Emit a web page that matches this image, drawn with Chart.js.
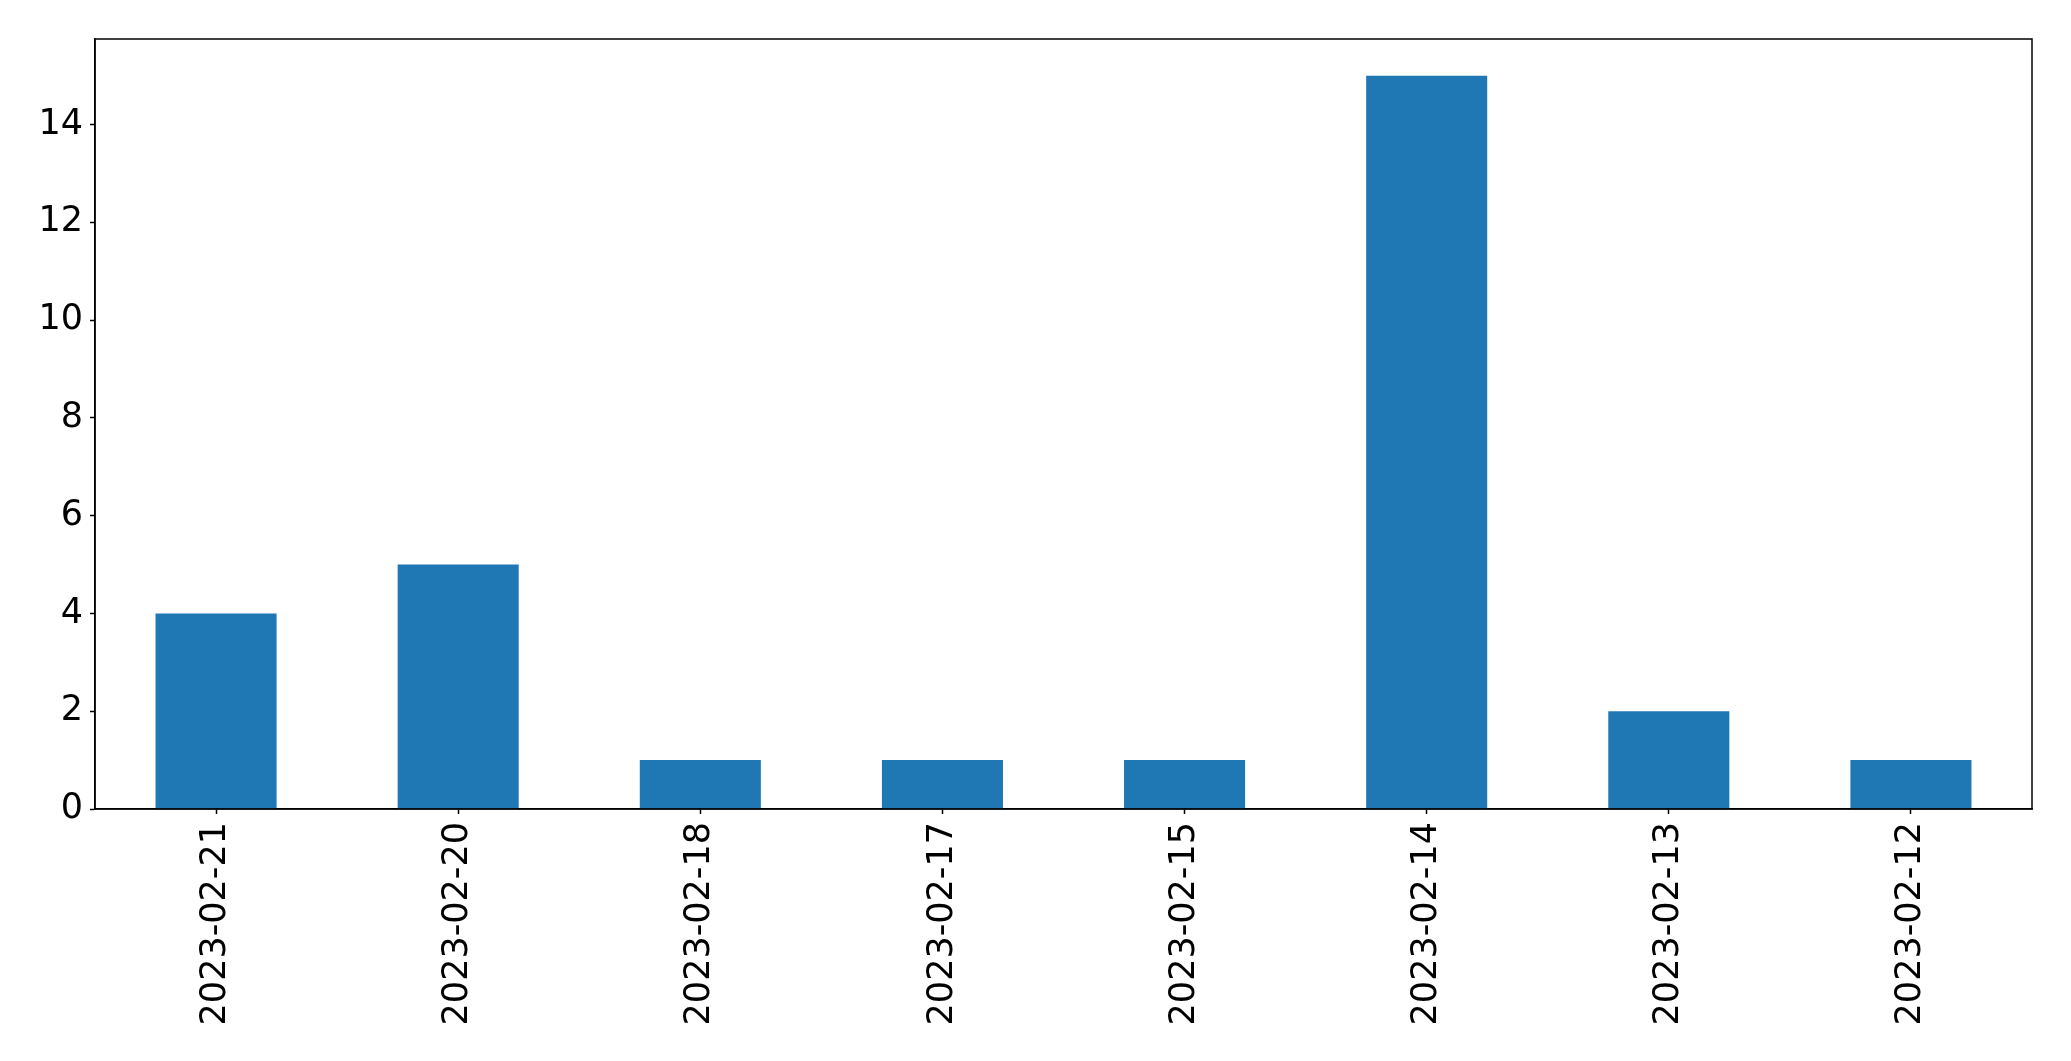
<!DOCTYPE html>
<html>
<head>
<meta charset="utf-8">
<script src="https://cdn.jsdelivr.net/npm/chart.js@4"></script>
<style>
  html, body { margin: 0; padding: 0; background: #fff; }
  #wrap { width: 2071px; height: 1061px; }
</style>
</head>
<body>
<div id="wrap"><canvas id="c" width="2071" height="1061"></canvas></div>
<script>
const dates = ["2023-02-21", "2023-02-20", "2023-02-18", "2023-02-17", "2023-02-15", "2023-02-14", "2023-02-13", "2023-02-12"];
const counts = [4, 5, 1, 1, 1, 15, 2, 1];
const yTicks = [0, 2, 4, 6, 8, 10, 12, 14];

// draws the box round the plot area (top and right sides)
const frame = {
    id: 'frame',
    afterDraw(chart) {
        const a = chart.chartArea, ctx = chart.ctx;
        ctx.save();
        ctx.strokeStyle = '#000';
        ctx.lineWidth = 1.5;
        ctx.strokeRect(a.left, a.top, a.right - a.left, a.bottom - a.top);
        ctx.restore();
    }
};

new Chart(document.getElementById('c').getContext('2d'), {
    type: 'bar',
    data: {
        labels: dates,
        datasets: [{
            data: counts,
            backgroundColor: '#1f77b4',
            barPercentage: 0.5,
            categoryPercentage: 1.0,
        }]
    },
    plugins: [frame],
    options: {
        responsive: false,
        animation: false,
        layout: { padding: { top: 39, right: 39, left: 0, bottom: 0 } },
        plugins: {
            legend: { display: false },
            tooltip: { enabled: false }
        },
        scales: {
            x: {
                grid: { drawOnChartArea: false, offset: false, tickLength: 5, tickColor: '#000', tickWidth: 1.5 },
                border: { color: '#000', width: 1.5 },
                ticks: {
                    color: '#000',
                    font: { family: 'DejaVu Sans', size: 35 },
                    minRotation: 90,
                    maxRotation: 90,
                    padding: 8,
                    autoSkip: false
                },
                afterFit(scale) { scale.height = 252; }
            },
            y: {
                min: 0,
                max: 15.75,
                grid: { drawOnChartArea: false, tickLength: 5, tickColor: '#000', tickWidth: 1.5 },
                border: { color: '#000', width: 1.5 },
                ticks: {
                    color: '#000',
                    font: { family: 'DejaVu Sans', size: 35 },
                    padding: 7
                },
                afterBuildTicks(scale) { scale.ticks = yTicks.map(v => ({ value: v })); },
                afterFit(scale) { scale.width = 95; }
            }
        }
    }
});
</script>
</body>
</html>
